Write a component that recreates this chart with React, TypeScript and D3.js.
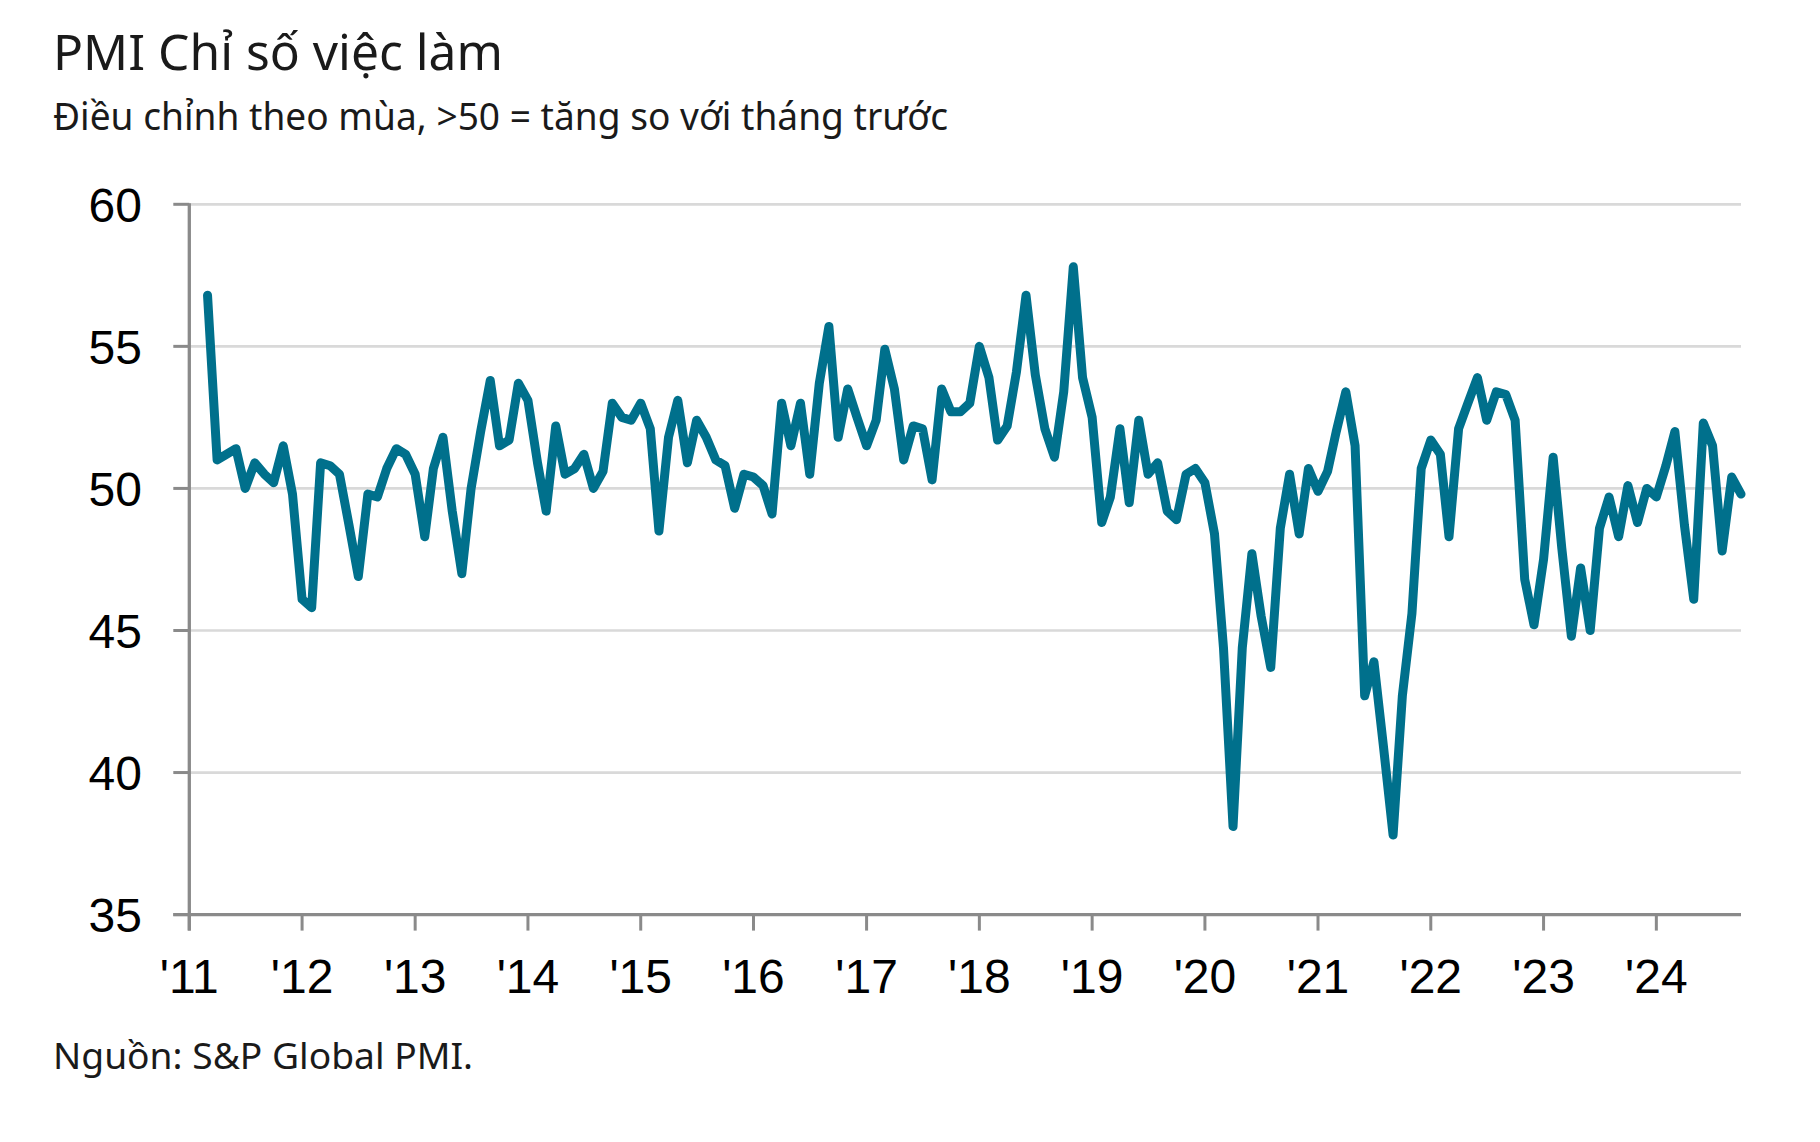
import React from "react";
import * as d3 from "d3";

const title = "PMI Chỉ số việc làm";
const subtitle = "Điều chỉnh theo mùa, >50 = tăng so với tháng trước";
const source = "Nguồn: S&P Global PMI.";

// Monthly values, March 2011 .. October 2024
const startYear = 2011;
const startMonth = 2; // March (0-based)
const employmentPMI: number[] = [
  // 2011 Mar-Dec
  56.8, 51.0, 51.2, 51.4, 50.0, 50.9, 50.5, 50.2, 51.5, 49.8,
  // 2012
  46.1, 45.8, 50.9, 50.8, 50.5, 48.7, 46.9, 49.8, 49.7, 50.7, 51.4, 51.2,
  // 2013
  50.5, 48.3, 50.7, 51.8, 49.2, 47.0, 50.0, 52.0, 53.8, 51.5, 51.7, 53.7,
  // 2014
  53.1, 50.9, 49.2, 52.2, 50.5, 50.7, 51.2, 50.0, 50.6, 53.0, 52.5, 52.4,
  // 2015
  53.0, 52.1, 48.5, 51.8, 53.1, 50.9, 52.4, 51.8, 51.0, 50.8, 49.3, 50.5,
  // 2016
  50.4, 50.1, 49.1, 53.0, 51.5, 53.0, 50.5, 53.7, 55.7, 51.8, 53.5, 52.5,
  // 2017
  51.5, 52.4, 54.9, 53.5, 51.0, 52.2, 52.1, 50.3, 53.5, 52.7, 52.7, 53.0,
  // 2018
  55.0, 53.9, 51.7, 52.2, 54.1, 56.8, 54.0, 52.1, 51.1, 53.4, 57.8, 53.9,
  // 2019
  52.5, 48.8, 49.7, 52.1, 49.5, 52.4, 50.5, 50.9, 49.2, 48.9, 50.5, 50.7,
  // 2020
  50.2, 48.4, 44.4, 38.1, 44.4, 47.7, 45.5, 43.7, 48.6, 50.5, 48.4, 50.7,
  // 2021
  49.9, 50.6, 52.0, 53.4, 51.5, 42.7, 43.9, 40.9, 37.8, 42.7, 45.6, 50.7,
  // 2022
  51.7, 51.2, 48.3, 52.1, 53.0, 53.9, 52.4, 53.4, 53.3, 52.4, 46.8, 45.2,
  // 2023
  47.5, 51.1, 47.9, 44.8, 47.2, 45.0, 48.6, 49.7, 48.3, 50.1, 48.8, 50.0,
  // 2024 Jan-Oct
  49.7, 50.8, 52.0, 48.7, 46.1, 52.3, 51.5, 47.8, 50.4, 49.8,
];

const yTicks = [35, 40, 45, 50, 55, 60];
const yearTicks = d3.range(2011, 2025);
const yearLabels = yearTicks.map((y) => "'" + String(y).slice(2));

const W = 1820;
const H = 1142;
const left = 189.3;
const right = 1741;
const top = 204.3;
const bottom = 914.6;

const AXIS = "#8a8a8a";
const GRID = "#d9d9d9";
const LINE = "#00708c";

export default function App() {
  const data = employmentPMI.map((v, i) => ({
    date: new Date(startYear, startMonth + i, 1),
    value: v,
  }));

  const x = d3
    .scaleTime()
    .domain([new Date(2011, 0, 1), data[data.length - 1].date])
    .range([left, right]);
  const y = d3.scaleLinear().domain([35, 60]).range([bottom, top]);

  const line = d3
    .line<{ date: Date; value: number }>()
    .x((d) => x(d.date))
    .y((d) => y(d.value));

  const textFont = "'Noto Sans', 'Open Sans', sans-serif";
  const axisFont = "'Liberation Sans', Arial, sans-serif";

  return (
    <svg
      width={W}
      height={H}
      viewBox={`0 0 ${W} ${H}`}
      style={{ position: "absolute", left: 0, top: 0, background: "#fff" }}
    >
      <rect x={0} y={0} width={W} height={H} fill="#fff" />
      <text
        x={53}
        y={70}
        fontFamily={textFont}
        fontSize={49}
        fill="#1a1a1a"
        textLength={450}
        lengthAdjust="spacingAndGlyphs"
      >
        {title}
      </text>
      <text
        x={53}
        y={130}
        fontFamily={textFont}
        fontSize={39}
        fill="#1a1a1a"
        textLength={895}
        lengthAdjust="spacingAndGlyphs"
      >
        {subtitle}
      </text>

      {/* gridlines */}
      {yTicks
        .filter((t) => t !== 35)
        .map((t) => (
          <line
            key={"g" + t}
            x1={left}
            x2={right}
            y1={y(t)}
            y2={y(t)}
            stroke={GRID}
            strokeWidth={2.7}
          />
        ))}

      {/* y axis */}
      <line x1={left} x2={left} y1={top - 1} y2={bottom + 16} stroke={AXIS} strokeWidth={3.3} />
      {yTicks.map((t) => (
        <g key={"y" + t}>
          <line x1={left - 16} x2={left} y1={y(t)} y2={y(t)} stroke={AXIS} strokeWidth={3} />
          <text
            x={142}
            y={y(t)}
            dy="0.36em"
            textAnchor="end"
            fontFamily={axisFont}
            fontSize={48}
            fill="#000"
          >
            {t}
          </text>
        </g>
      ))}

      {/* x axis */}
      <line x1={left - 16} x2={right} y1={bottom} y2={bottom} stroke={AXIS} strokeWidth={3.3} />
      {yearTicks.map((yr, i) => {
        const xx = x(new Date(yr, 0, 1));
        return (
          <g key={"x" + yr}>
            <line x1={xx} x2={xx} y1={bottom} y2={bottom + 16} stroke={AXIS} strokeWidth={3} />
            <text
              x={xx}
              y={993}
              textAnchor="middle"
              fontFamily={axisFont}
              fontSize={48}
              fill="#000"
            >
              {yearLabels[i]}
            </text>
          </g>
        );
      })}

      {/* series */}
      <path
        d={line(data) || ""}
        fill="none"
        stroke={LINE}
        strokeWidth={9}
        strokeLinejoin="round"
        strokeLinecap="round"
      />

      <text
        x={53}
        y={1069}
        fontFamily={textFont}
        fontSize={36}
        fill="#1a1a1a"
        textLength={420}
        lengthAdjust="spacingAndGlyphs"
      >
        {source}
      </text>
    </svg>
  );
}
